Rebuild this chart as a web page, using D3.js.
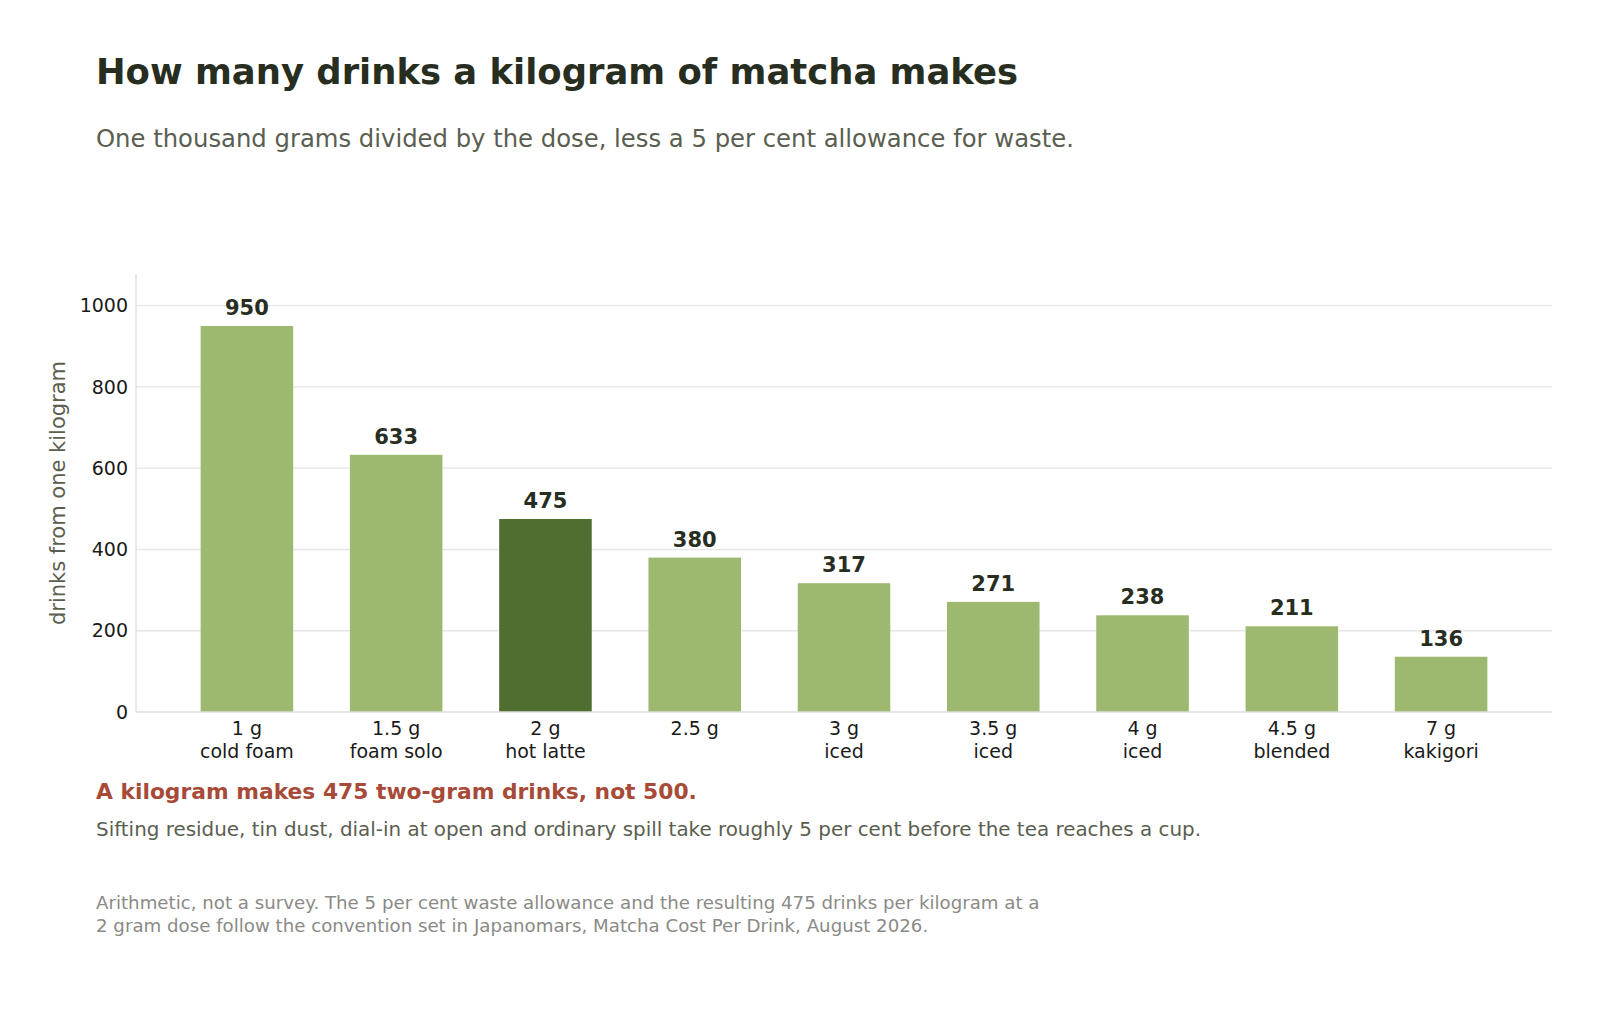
<!DOCTYPE html>
<html>
<head>
<meta charset="utf-8">
<script src="https://cdn.jsdelivr.net/npm/d3@7"></script>
<style>
  html, body { margin: 0; padding: 0; background: #ffffff; }
  svg { display: block; font-family: "DejaVu Sans", sans-serif; }
</style>
</head>
<body>
<svg id="chart" width="1600" height="1018"></svg>
<script>
// ---- data ----
const doses = ["1 g", "1.5 g", "2 g", "2.5 g", "3 g", "3.5 g", "4 g", "4.5 g", "7 g"];
const drinkTypes = ["cold foam", "foam solo", "hot latte", "", "iced", "iced", "iced", "blended", "kakigori"];
const drinks = [950, 633, 475, 380, 317, 271, 238, 211, 136];
const highlightDose = "2 g";
const yTicks = [0, 200, 400, 600, 800, 1000];

const titleText = "How many drinks a kilogram of matcha makes";
const subtitleText = "One thousand grams divided by the dose, less a 5 per cent allowance for waste.";
const yLabelText = "drinks from one kilogram";
const calloutText = "A kilogram makes 475 two-gram drinks, not 500.";
const calloutSub = "Sifting residue, tin dust, dial-in at open and ordinary spill take roughly 5 per cent before the tea reaches a cup.";
const footLines = [
  "Arithmetic, not a survey. The 5 per cent waste allowance and the resulting 475 drinks per kilogram at a",
  "2 gram dose follow the convention set in Japanomars, Matcha Cost Per Drink, August 2026."
];

// ---- layout ----
const W = 1600, H = 1018;
const plot = { left: 136, right: 1552, top: 274, bottom: 712 };
const colors = {
  bar: "#9db96f", highlight: "#4f6e2f", title: "#282e1f", sub: "#5a5e50",
  grid: "#e6e6e6", axis: "#dcdcdc", tick: "#1a1a1a", callout: "#a84a38", foot: "#8a8a86"
};

const svg = d3.select("#chart");

const x = d3.scaleBand()
  .domain(doses)
  .range([plot.left, plot.right])
  .paddingInner(0.38)
  .paddingOuter(0.433);

const y = d3.scaleLinear().domain([0, 1078]).range([plot.bottom, plot.top]);

// gridlines
svg.append("g").selectAll("line")
  .data(yTicks.filter(d => d > 0))
  .join("line")
  .attr("x1", plot.left).attr("x2", plot.right)
  .attr("y1", d => y(d)).attr("y2", d => y(d))
  .attr("stroke", colors.grid).attr("stroke-width", 1.3);

// left spine
svg.append("line")
  .attr("x1", plot.left).attr("x2", plot.left)
  .attr("y1", plot.top).attr("y2", plot.bottom)
  .attr("stroke", colors.axis).attr("stroke-width", 1.3);

// bars
svg.append("g").selectAll("rect")
  .data(drinks)
  .join("rect")
  .attr("x", (d, i) => x(doses[i]))
  .attr("width", x.bandwidth())
  .attr("y", d => y(d))
  .attr("height", d => y(0) - y(d))
  .attr("fill", (d, i) => doses[i] === highlightDose ? colors.highlight : colors.bar);

// bottom spine
svg.append("line")
  .attr("x1", plot.left).attr("x2", plot.right)
  .attr("y1", plot.bottom).attr("y2", plot.bottom)
  .attr("stroke", colors.axis).attr("stroke-width", 1.3);

// value labels
svg.append("g").selectAll("text")
  .data(drinks)
  .join("text")
  .attr("x", (d, i) => x(doses[i]) + x.bandwidth() / 2)
  .attr("y", d => y(d) - 11)
  .attr("text-anchor", "middle")
  .attr("font-size", 21)
  .attr("font-weight", "bold")
  .attr("fill", colors.title)
  .text(d => d);

// y axis
const yAxis = d3.axisLeft(y).tickValues(yTicks).tickSize(0).tickPadding(8).tickFormat(d3.format("d"));
const yg = svg.append("g").attr("transform", `translate(${plot.left},0)`).call(yAxis);
yg.select(".domain").remove();
yg.selectAll("text").attr("font-size", 19).attr("fill", colors.tick)
  .attr("font-family", "DejaVu Sans, sans-serif");

// x axis
const xAxis = d3.axisBottom(x).tickSize(0).tickPadding(0).tickFormat(() => "");
const xg = svg.append("g").attr("transform", `translate(0,${plot.bottom})`).call(xAxis);
xg.select(".domain").remove();
xg.selectAll(".tick").each(function(d, i) {
  const t = d3.select(this).append("text")
    .attr("text-anchor", "middle")
    .attr("font-size", 19)
    .attr("fill", colors.tick)
    .attr("font-family", "DejaVu Sans, sans-serif");
  t.append("tspan").attr("x", 0).attr("y", 23).text(doses[i]);
  if (drinkTypes[i]) t.append("tspan").attr("x", 0).attr("y", 46.3).text(drinkTypes[i]);
});

// y label
svg.append("text")
  .attr("transform", `translate(65,${(plot.top + plot.bottom) / 2}) rotate(-90)`)
  .attr("text-anchor", "middle")
  .attr("font-size", 21)
  .attr("fill", colors.sub)
  .text(yLabelText);

// title & subtitle
svg.append("text").attr("x", 96).attr("y", 84)
  .attr("font-size", 35.4).attr("font-weight", "bold").attr("fill", colors.title)
  .text(titleText);
svg.append("text").attr("x", 96).attr("y", 146.7)
  .attr("font-size", 24.3).attr("fill", colors.sub)
  .text(subtitleText);

// callout
svg.append("text").attr("x", 96).attr("y", 799.3)
  .attr("font-size", 21.8).attr("font-weight", "bold").attr("fill", colors.callout)
  .text(calloutText);
svg.append("text").attr("x", 96).attr("y", 835.7)
  .attr("font-size", 19.9).attr("fill", colors.sub)
  .text(calloutSub);

// footnote
svg.append("g").selectAll("text")
  .data(footLines)
  .join("text")
  .attr("x", 96)
  .attr("y", (d, i) => 909 + i * 23.3)
  .attr("font-size", 18.2)
  .attr("fill", colors.foot)
  .text(d => d);
</script>
</body>
</html>
